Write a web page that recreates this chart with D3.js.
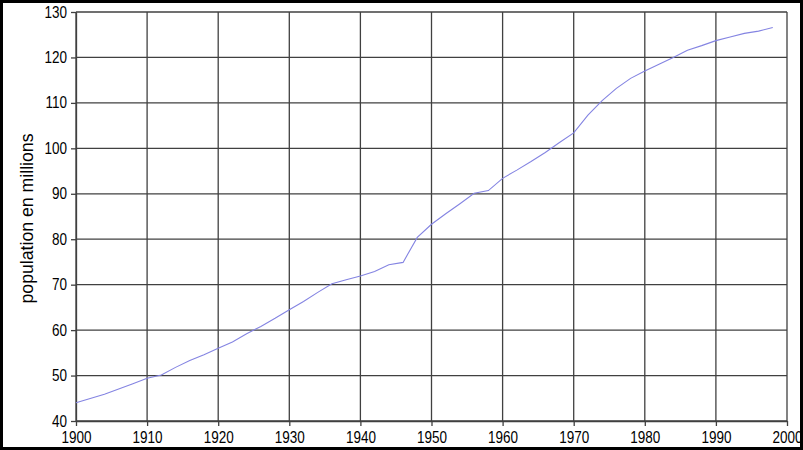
<!DOCTYPE html>
<html>
<head>
<meta charset="utf-8">
<script src="https://cdn.jsdelivr.net/npm/d3@7"></script>
<style>
  body { margin: 0; background: #fff; }
  svg { display: block; }
  .axis text { font-family: "Liberation Sans", Arial, sans-serif; fill: #000; }
  .axis path, .axis line { stroke: #404040; stroke-width: 1.3; }
  .grid line { stroke: #404040; stroke-width: 1.3; }
</style>
</head>
<body>
<div id="chart"></div>
<script>
const years = [1900, 1904, 1908, 1910, 1912, 1914, 1916, 1918, 1920, 1922, 1924, 1926, 1928,
  1930, 1932, 1934, 1936, 1938, 1940, 1942, 1944, 1946, 1948, 1950, 1952, 1954, 1956, 1958,
  1960, 1962, 1964, 1966, 1968, 1970, 1972, 1974, 1976, 1978, 1980, 1982, 1984, 1986, 1988,
  1990, 1992, 1994, 1996, 1998];
const population = [44.0, 45.9, 48.2, 49.4, 50.1, 51.8, 53.3, 54.6, 56.0, 57.4, 59.2, 60.8, 62.6,
  64.5, 66.3, 68.3, 70.2, 71.1, 71.9, 72.9, 74.4, 74.9, 80.4, 83.3, 85.6, 87.8, 90.1, 90.7,
  93.4, 95.2, 97.1, 99.1, 101.3, 103.4, 107.3, 110.5, 113.2, 115.4, 117.0, 118.5, 120.0, 121.6, 122.6,
  123.7, 124.5, 125.3, 125.8, 126.6];
const xTicks = d3.range(1900, 2001, 10);
const yTicks = d3.range(40, 131, 10);
const yLabel = "population en millions";

const width = 803;
const height = 450;
const margin = { top: 12, right: 16, bottom: 29, left: 76 };

const x = d3.scaleLinear().domain([1900, 2000]).range([margin.left, width - margin.right]);
const y = d3.scaleLinear().domain([40, 130]).range([height - margin.bottom, margin.top]);

const svg = d3.select("#chart").append("svg")
  .attr("width", width)
  .attr("height", height);

// grid
const grid = svg.append("g").attr("class", "grid");
grid.selectAll(".gx").data(xTicks).join("line")
  .attr("x1", d => x(d)).attr("x2", d => x(d))
  .attr("y1", y(130)).attr("y2", y(40));
grid.selectAll(".gy").data(yTicks).join("line")
  .attr("x1", x(1900)).attr("x2", x(2000))
  .attr("y1", d => y(d)).attr("y2", d => y(d));

const xAxisG = svg.append("g")
  .attr("class", "axis")
  .attr("transform", `translate(0,${y(40)})`)
  .call(d3.axisBottom(x).tickValues(xTicks).tickFormat(d3.format("d")).tickSize(5).tickSizeOuter(0));
xAxisG.selectAll("text")
  .attr("font-size", 13.5)
  .attr("dy", null)
  .attr("y", 0)
  .attr("transform", "translate(0,22) scale(1,1.2)");

const yAxisG = svg.append("g")
  .attr("class", "axis")
  .attr("transform", `translate(${x(1900)},0)`)
  .call(d3.axisLeft(y).tickValues(yTicks).tickSize(5).tickSizeOuter(0));
yAxisG.selectAll("text")
  .attr("font-size", 13.5)
  .attr("x", 0)
  .attr("dy", null)
  .attr("transform", "translate(-9,5) scale(1,1.2)");

// y label
svg.append("text")
  .attr("font-family", "Liberation Sans, Arial, sans-serif")
  .attr("font-size", 19)
  .attr("text-anchor", "middle")
  .attr("textLength", 170)
  .attr("lengthAdjust", "spacingAndGlyphs")
  .attr("transform", `translate(33,${(y(130) + y(40)) / 2 + 2}) rotate(-90)`)
  .text(yLabel);

// line
const line = d3.line()
  .x((d, i) => x(years[i]))
  .y(d => y(d));
svg.append("path")
  .datum(population)
  .attr("fill", "none")
  .attr("stroke", "#8484e2")
  .attr("stroke-width", 1.1)
  .attr("d", line);

// outer frame
svg.append("rect")
  .attr("x", 1.5).attr("y", 1.5)
  .attr("width", width - 3).attr("height", height - 3)
  .attr("fill", "none")
  .attr("stroke", "#000")
  .attr("stroke-width", 3);
</script>
</body>
</html>
